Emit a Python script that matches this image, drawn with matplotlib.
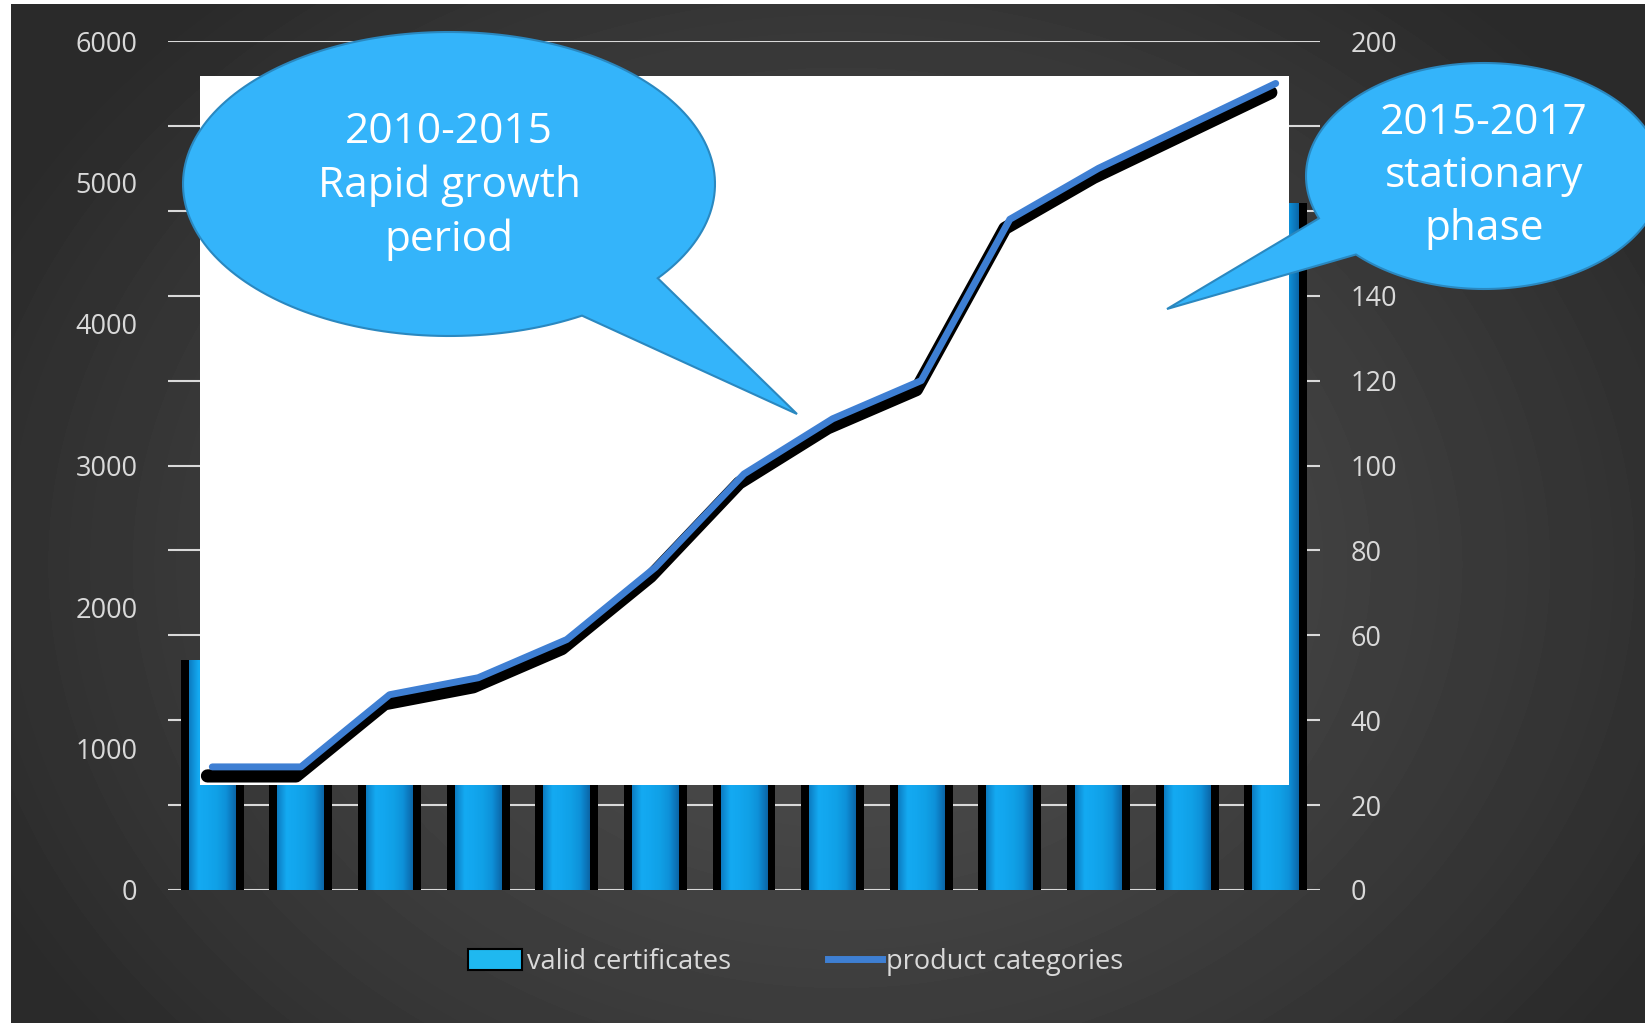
import numpy as np
import matplotlib
matplotlib.use("Agg")
import matplotlib.pyplot as plt
import matplotlib.patheffects as pe
from matplotlib.patches import Polygon, Rectangle, Patch
from matplotlib.lines import Line2D
from matplotlib.colors import LinearSegmentedColormap

plt.rcParams['font.family'] = ['Open Sans', 'DejaVu Sans']

# data
years = [str(y) for y in range(2005, 2018)]
valid_certificates = [1625, 1700, 1850, 2050, 2300, 2600, 2950, 3300, 3650, 4000, 4300, 4600, 4855]
product_categories = [29, 29, 46, 50, 59, 76, 98, 111, 120, 158, 170, 180, 190]
left_ticks = [0, 1000, 2000, 3000, 4000, 5000, 6000]
right_ticks = [0, 20, 40, 60, 80, 100, 120, 140, 160, 180, 200]
right_labels = ['0', '20', '40', '60', '80', '100', '120', '140', '', '', '200']  # 160/180 sit under the callout

W, H = 1645, 1023
TXT = '#D9D9D9'


def fx(x, y):
    # pixel (top-left origin) -> figure fraction
    return x / W, 1 - y / H


fig = plt.figure(figsize=(W / 100, H / 100), dpi=100)
fig.patch.set_facecolor('white')

# dark radial background
bg = fig.add_axes([11 / W, 0, 1 - 11 / W, 1 - 4 / H])
yy, xx = np.mgrid[0:H - 4, 0:W - 11]
r = np.sqrt(((xx - 830) / 950) ** 2 + ((yy - 560) / 760) ** 2)
shade = 0.31 - 0.145 * np.clip(r, 0, 1) ** 1.3
bg.imshow(shade, cmap='gray', vmin=0, vmax=1, aspect='auto', interpolation='bilinear')
bg.axis('off')

# main axes (bars)
ax = fig.add_axes([168 / W, 1 - 890 / H, (1320 - 168) / W, (890 - 41) / H])
ax.patch.set_alpha(0)
x = np.arange(len(years))
ax.bar(x, valid_certificates, width=0.71, color='black', zorder=2)
bars = ax.bar(x, valid_certificates, width=0.53, color='#12A2E6', zorder=3)

bar_cmap = LinearSegmentedColormap.from_list(
    'barshade', ['#0C7CC2', '#14AAF2', '#12A6EE', '#10A0E6', '#0E90D8', '#0B66A8'])
grad = np.linspace(0, 1, 64).reshape(1, -1)
for b in bars:
    im = ax.imshow(grad, cmap=bar_cmap, aspect='auto', zorder=3.5,
                   extent=(b.get_x(), b.get_x() + b.get_width(), 0, b.get_height()))
    im.set_clip_path(b)

ax.set_xlim(-0.5, len(years) - 0.5)
ax.set_ylim(0, 6000)
ax.set_yticks(left_ticks)
ax.set_yticks(np.arange(0, 6001, 600), minor=True)
ax.yaxis.remove_overlapping_locs = False
ax.grid(which='minor', axis='y', color=TXT, lw=1.5, zorder=1)
ax.grid(which='major', visible=False)
ax.set_axisbelow(True)
ax.tick_params(axis='y', which='both', length=0, labelsize=19.5, labelcolor=TXT, pad=22)
ax.set_xticks([])
for s in ax.spines.values():
    s.set_visible(False)

# white panel over the bars
x0, y0 = fx(200, 785)
ax.add_patch(Rectangle((x0, y0), 1089 / W, 709 / H, transform=fig.transFigure,
                       facecolor='white', edgecolor='none', zorder=6, clip_on=False))

# line on secondary axis
ax2 = ax.twinx()
ax2.patch.set_visible(False)
ax2.plot(x, product_categories, color='#3E7FD3', lw=5, solid_capstyle='round',
         solid_joinstyle='round', zorder=3,
         path_effects=[pe.SimpleLineShadow(offset=(-3.5, -6.5), shadow_color='black',
                                           alpha=1, linewidth=9.5),
                       pe.Normal()])
ax2.set_ylim(0, 200)
ax2.set_yticks(right_ticks)
ax2.set_yticklabels(right_labels)
ax2.tick_params(axis='y', length=0, labelsize=19.5, labelcolor=TXT, pad=22)
for s in ax2.spines.values():
    s.set_visible(False)


def bubble(cx, cy, rx, ry, t_start, t_end, tip):
    t = np.radians(np.linspace(t_start, t_end, 200))
    pts = [fx(cx + rx * np.cos(a), cy + ry * np.sin(a)) for a in t]
    pts.append(fx(*tip))
    return Polygon(pts, closed=True, transform=fig.transFigure, facecolor='#34B4FA',
                   edgecolor='#2A88C0', lw=1.5, zorder=10, clip_on=False)


ax2.add_patch(bubble(449, 184, 266, 152, 60, 398.3, (797, 414)))
ax2.add_patch(bubble(1484, 176, 178, 113, 158, 496, (1167, 309)))

ax2.text(*fx(449, 186), "2010-2015\nRapid growth\nperiod", transform=fig.transFigure,
         ha='center', va='center', fontsize=30.5, color='white', linespacing=1.35, zorder=11)
ax2.text(*fx(1484, 176), "2015-2017\nstationary\nphase", transform=fig.transFigure,
         ha='center', va='center', fontsize=30.5, color='white', linespacing=1.35, zorder=11)

# legend
handles = [Patch(facecolor='#1FB8F0', edgecolor='black', lw=1.5),
           Line2D([], [], color='#3E7FD3', lw=5)]
fig.legend(handles, ['valid certificates', 'product categories'], loc='center',
           bbox_to_anchor=fx(796, 962), ncol=2, frameon=False, fontsize=19.5,
           labelcolor=TXT, handlelength=2.0, handleheight=0.8, handletextpad=0.15,
           columnspacing=3.6)

fig.savefig('out.png', dpi=100)
